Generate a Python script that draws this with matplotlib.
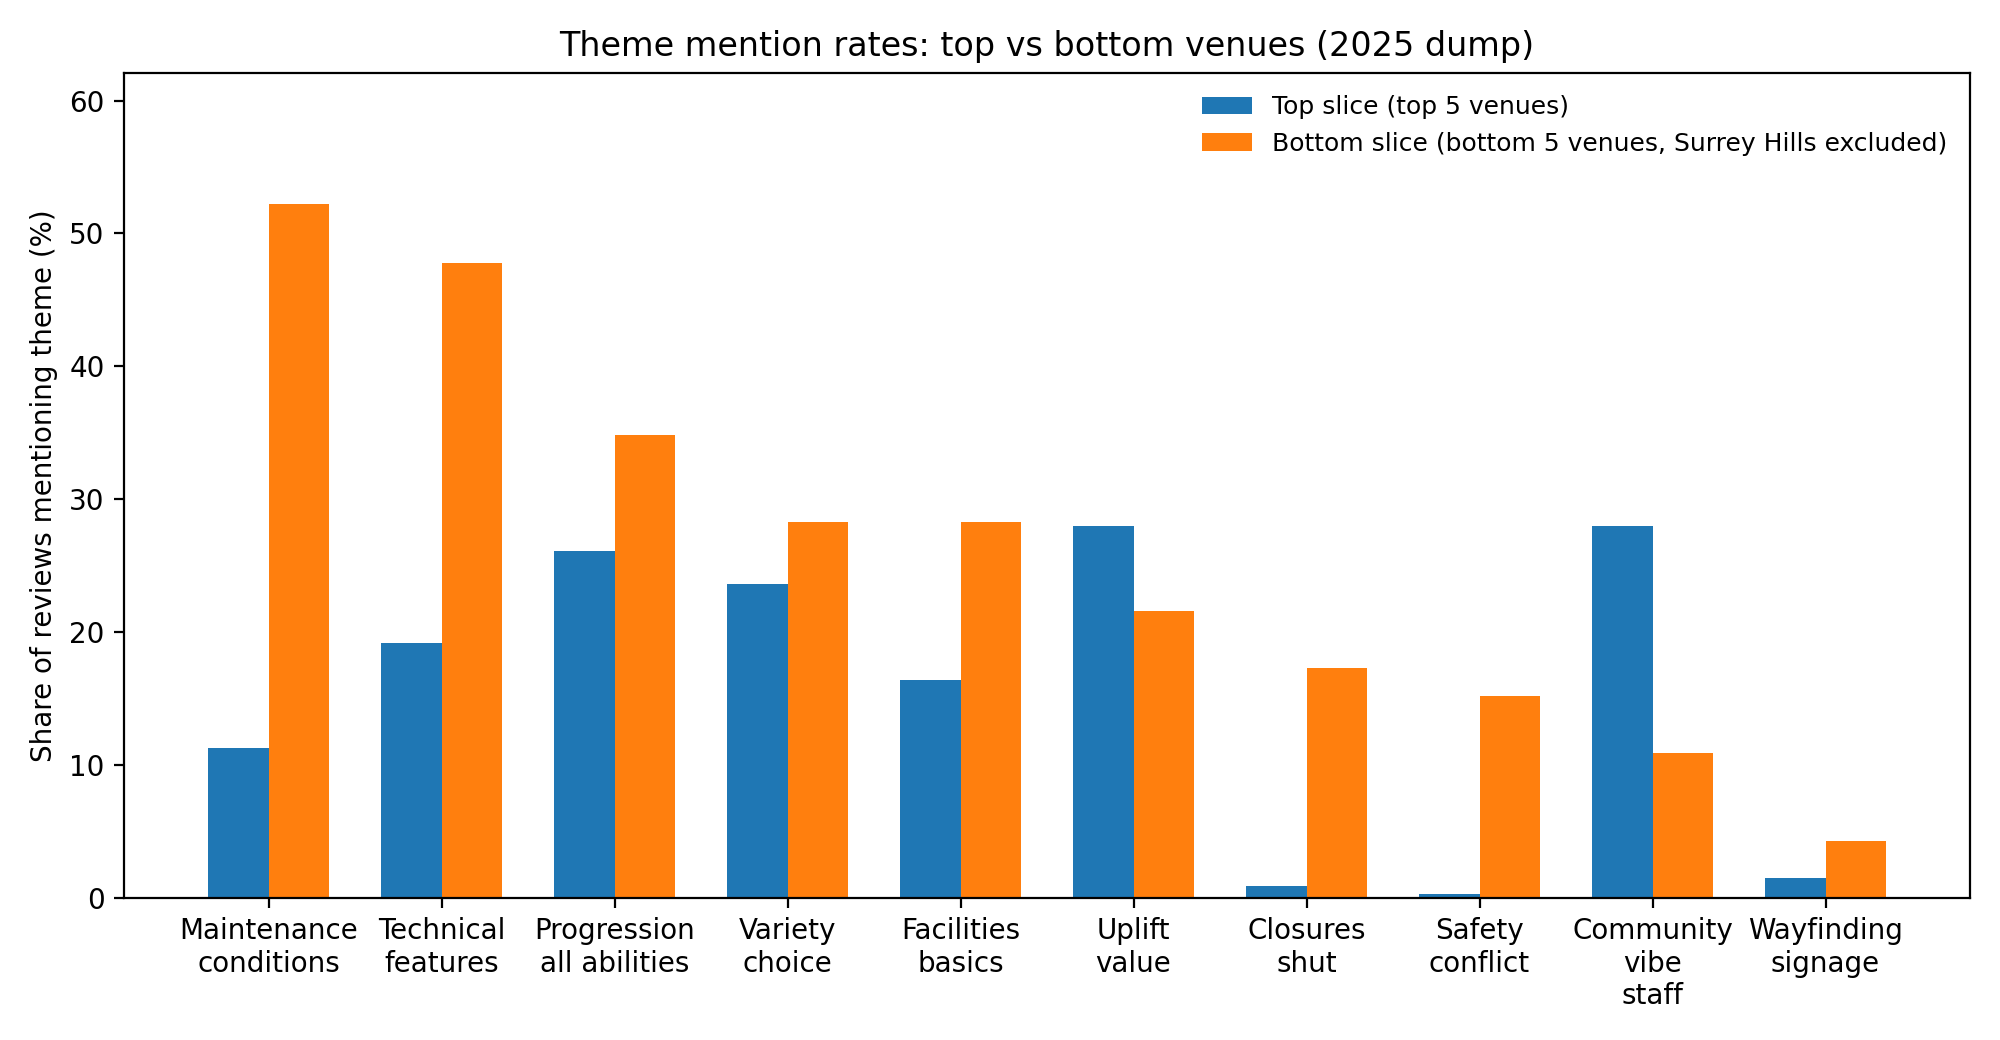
import matplotlib
matplotlib.use("Agg")
import matplotlib.pyplot as plt
import numpy as np

themes = [
    "Maintenance\nconditions",
    "Technical\nfeatures",
    "Progression\nall abilities",
    "Variety\nchoice",
    "Facilities\nbasics",
    "Uplift\nvalue",
    "Closures\nshut",
    "Safety\nconflict",
    "Community\nvibe\nstaff",
    "Wayfinding\nsignage",
]
top_slice = [11.3, 19.15, 26.1, 23.6, 16.4, 28.0, 0.87, 0.25, 28.0, 1.5]
bottom_slice = [52.2, 47.8, 34.8, 28.3, 28.3, 21.6, 17.3, 15.2, 10.9, 4.3]

x = np.arange(len(themes))
w = 0.35

fig, ax = plt.subplots(figsize=(10, 5.2), dpi=200)
ax.bar(x - w / 2, top_slice, w, label="Top slice (top 5 venues)")
ax.bar(x + w / 2, bottom_slice, w, label="Bottom slice (bottom 5 venues, Surrey Hills excluded)")

ax.set_xticks(x)
ax.set_xticklabels(themes)
ax.set_ylim(0, 62.1)
ax.set_ylabel("Share of reviews mentioning theme (%)")
ax.set_title("Theme mention rates: top vs bottom venues (2025 dump)")
ax.legend(frameon=False, fontsize=9)

fig.tight_layout()
fig.savefig("out.png")
